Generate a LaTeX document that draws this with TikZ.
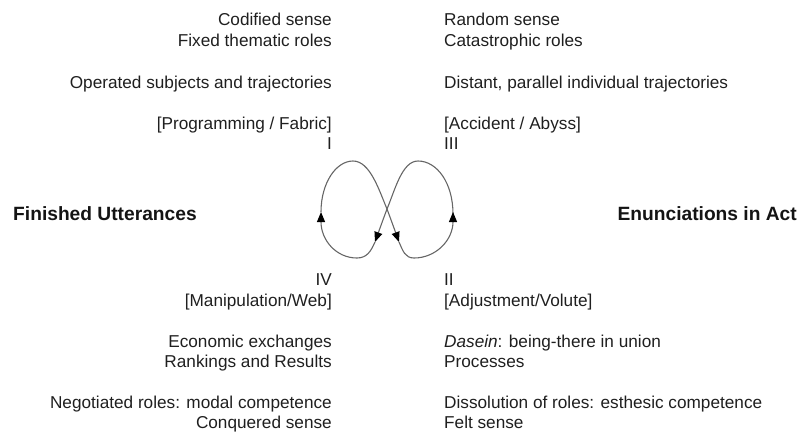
\documentclass[tikz,border=0pt]{standalone}
\usepackage{fontspec}
\setmainfont{Liberation Sans}
\usetikzlibrary{arrows.meta}

\tikzset{
  lefttext/.style={anchor=base east, inner sep=0pt, text=black!88, font=\fontsize{17.2}{20}\selectfont},
  righttext/.style={anchor=base west, inner sep=0pt, text=black!88, font=\fontsize{17.2}{20}\selectfont},
  pole/.style={inner sep=0pt, text=black!92, font=\fontsize{19.2}{22}\selectfont\bfseries},
  eightline/.style={draw=black!60, line width=1.1pt, -{Triangle[length=10pt,width=8pt,black]}}
}

\begin{document}
\begin{tikzpicture}[x=1pt,y=-1pt]
            \useasboundingbox (0,0) rectangle (801,432);

            % I and III (top)
            \node[lefttext] (codified) at (332,25) {Codified sense};
            \node[lefttext] (fixed) at (332,46) {Fixed thematic roles};
            \node[lefttext] (operated) at (332,88) {Operated subjects and trajectories};
            \node[lefttext] (programming) at (332,129) {[Programming / Fabric]};
            \node[lefttext] (one) at (332,149) {I};

            \node[righttext] (random) at (444,25) {Random sense};
            \node[righttext] (catastrophic) at (444,46) {Catastrophic roles};
            \node[righttext] (distant) at (444,88) {Distant, parallel individual trajectories};
            \node[righttext] (accident) at (444,129) {[Accident / Abyss]};
            \node[righttext] (three) at (444,149) {III};

            % poles
            \node[pole, anchor=base west] (finished) at (13,220) {Finished Utterances};
            \node[pole, anchor=base east] (enunciations) at (797,220) {Enunciations in Act};

            % IV and II (bottom)
            \node[lefttext] (four) at (332,285) {IV};
            \node[lefttext] (manipulation) at (332,306) {[Manipulation/Web]};
            \node[lefttext] (economic) at (332,347) {Economic exchanges};
            \node[lefttext] (rankings) at (332,367) {Rankings and Results};
            \node[lefttext] (negotiated) at (332,408) {Negotiated roles: modal competence};
            \node[lefttext] (conquered) at (332,428) {Conquered sense};

            \node[righttext] (two) at (444,285) {II};
            \node[righttext] (adjustment) at (444,306) {[Adjustment/Volute]};
            \node[righttext] (dasein) at (444,347) {\textit{Dasein}: being-there in union};
            \node[righttext] (processes) at (444,367) {Processes};
            \node[righttext] (dissolution) at (444,408) {Dissolution of roles: esthesic competence};
            \node[righttext] (felt) at (444,428) {Felt sense};

            % figure eight
            \coordinate (cross) at (387,209);
            \draw[eightline] (453,214) .. controls (453,183) and (437,161) .. (418,161)
                .. controls (402,161) and (395,190) .. (cross)
                .. controls (384,217) and (380,228) .. (375,242);
            \draw[eightline] (375,242) .. controls (371,251) and (367,258) .. (357,258)
                .. controls (336,258) and (321,240) .. (321,212);
            \draw[eightline] (321,212) .. controls (321,183) and (336,161) .. (353,161)
                .. controls (370,161) and (379,190) .. (cross)
                .. controls (390,217) and (394,228) .. (399,242);
            \draw[eightline] (399,242) .. controls (403,251) and (405,258) .. (414,258)
                .. controls (436,258) and (453,240) .. (453,212);
        \end{tikzpicture}
\end{document}
